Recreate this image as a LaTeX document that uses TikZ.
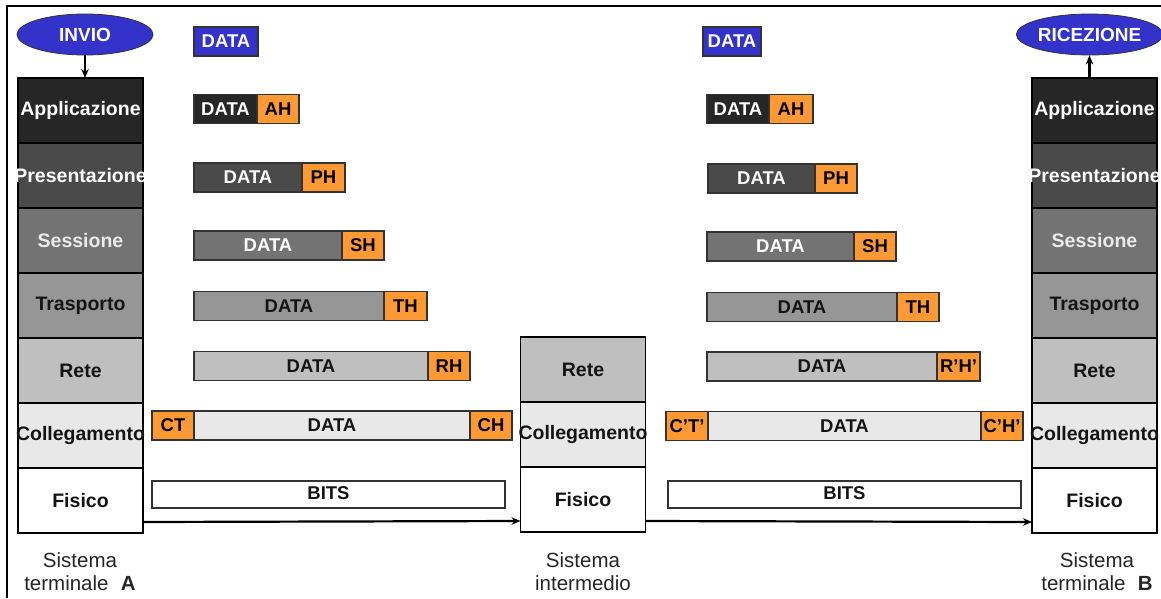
\documentclass[tikz,border=0pt]{standalone}
\usepackage{fontspec}
\setmainfont{Liberation Sans}
\usetikzlibrary{shapes.geometric,arrows.meta}

\definecolor{layA}{HTML}{262626}
\definecolor{layP}{HTML}{4A4A4A}
\definecolor{layS}{HTML}{737373}
\definecolor{layT}{HTML}{969696}
\definecolor{layR}{HTML}{BFBFBF}
\definecolor{layC}{HTML}{E8E8E8}
\definecolor{hdrorange}{HTML}{FF9933}
\definecolor{epblue}{HTML}{3333CC}
\definecolor{inktext}{HTML}{141414}

\begin{document}
\begin{tikzpicture}[x=1pt,y=-1pt,
  layer/.style={draw=black, line width=1.6pt, minimum width=125pt, minimum height=65pt,
    inner sep=0pt, outer sep=0pt},
  lyt/.style={font=\fontsize{19.5}{22}\selectfont\bfseries},
  lay1/.style={layer, fill=layA, label={[lyt,text=white]center:#1}},
  lay2/.style={layer, fill=layP, label={[lyt,text=white]center:#1}},
  lay3/.style={layer, fill=layS, label={[lyt,text=black!8]center:#1}},
  lay4/.style={layer, fill=layT, label={[lyt,text=inktext]center:#1}},
  lay5/.style={layer, fill=layR, label={[lyt,text=inktext]center:#1}},
  lay6/.style={layer, fill=layC, label={[lyt,text=inktext]center:#1}},
  lay7/.style={layer, fill=white, label={[lyt,text=inktext]center:#1}},
  pk/.style={draw=black!80, line width=1.1pt, minimum height=29pt, inner sep=0pt, outer sep=0pt,
    font=\fontsize{18.5}{20}\selectfont\bfseries},
  hdr/.style={pk, fill=hdrorange, text=black, minimum width=#1},
  hdr/.default=42pt,
  flow/.style={line width=2.2pt, -{Stealth[length=9pt,width=7.5pt]}},
  caption/.style={font=\fontsize{20.5}{23}\selectfont, text=black!85, align=center},
  endpt/.style={ellipse, draw=black!80, line width=0.8pt, fill=epblue, text=white,
    minimum width=136pt, minimum height=41pt, inner sep=0pt,
    font=\fontsize{19}{20}\selectfont\bfseries}
]
\useasboundingbox (0,0) rectangle (1161,598);

% outer frame (top and left edges)
\draw[line width=2.2pt] (7,598) -- (7,6) -- (1161,6);

% end system A
\node[lay1=Applicazione]  (aA) at (80.5,110.5) {};
\node[lay2=Presentazione] (aP) at (80.5,175.5) {};
\node[lay3=Sessione]      (aS) at (80.5,240.5) {};
\node[lay4=Trasporto]     (aT) at (80.5,305.5) {};
\node[lay5=Rete]          (aR) at (80.5,370.5) {};
\node[lay6=Collegamento]  (aC) at (80.5,435.5) {};
\node[lay7=Fisico]        (aF) at (80.5,500.5) {};

% intermediate system
\node[lay5=Rete]          (iR) at (583,369.5) {};
\node[lay6=Collegamento]  (iC) at (583,434.5) {};
\node[lay7=Fisico]        (iF) at (583,499.5) {};

% end system B
\node[lay1=Applicazione]  (bA) at (1094.5,110.5) {};
\node[lay2=Presentazione] (bP) at (1094.5,175.5) {};
\node[lay3=Sessione]      (bS) at (1094.5,240.5) {};
\node[lay4=Trasporto]     (bT) at (1094.5,305.5) {};
\node[lay5=Rete]          (bR) at (1094.5,370.5) {};
\node[lay6=Collegamento]  (bC) at (1094.5,435.5) {};
\node[lay7=Fisico]        (bF) at (1094.5,500.5) {};

% send / receive
\node[endpt] (invio) at (85,34.5) {INVIO};
\node[endpt] (ricez) at (1089.5,34.5) {RICEZIONE};
\draw[flow] (invio.south) -- (invio.south |- aA.north);
\draw[flow] (ricez.south |- bA.north) -- (ricez.south);

% physical transmission
\draw[flow] ([yshift=11pt]aF.south east) -- ([yshift=11pt]iF.south west);
\draw[flow] ([yshift=11pt]iF.south east) -- ([yshift=11pt]bF.south west);

% encapsulation, A -> intermediate
\node[pk, fill=epblue, text=white, minimum width=64pt]  (d0) at (226,41.5) {DATA};
\node[pk, fill=layA, text=white, minimum width=63pt]    (d1) at (225.5,109) {DATA};
\node[hdr, anchor=west] (h1) at (d1.east) {AH};
\node[pk, fill=layP, text=white, minimum width=108pt]   (d2) at (248,177.5) {DATA};
\node[hdr=43pt, anchor=west] (h2) at (d2.east) {PH};
\node[pk, fill=layS, text=white, minimum width=148pt]   (d3) at (268,245.5) {DATA};
\node[hdr, anchor=west] (h3) at (d3.east) {SH};
\node[pk, fill=layT, text=inktext, minimum width=190pt] (d4) at (289,306) {DATA};
\node[hdr=43pt, anchor=west] (h4) at (d4.east) {TH};
\node[pk, fill=layR, text=inktext, minimum width=234pt] (d5) at (311,366) {DATA};
\node[hdr, anchor=west] (h5) at (d5.east) {RH};
\node[pk, fill=layC, text=inktext, minimum width=276pt] (d6) at (332,425.5) {DATA};
\node[hdr, anchor=east] (t6) at (d6.west) {CT};
\node[hdr, anchor=west] (h6) at (d6.east) {CH};
\node[pk, fill=white, text=inktext, minimum width=353pt, minimum height=27pt] (d7) at (328.5,494.5) {\raisebox{2pt}{BITS}};

% encapsulation, intermediate -> B
\node[pk, fill=epblue, text=white, minimum width=58pt]  (e0) at (732,41.5) {DATA};
\node[pk, fill=layA, text=white, minimum width=62pt]    (e1) at (738,109) {DATA};
\node[hdr=44pt, anchor=west] (g1) at (e1.east) {AH};
\node[pk, fill=layP, text=white, minimum width=107pt]   (e2) at (761.5,178.5) {DATA};
\node[hdr, anchor=west] (g2) at (e2.east) {PH};
\node[pk, fill=layS, text=white, minimum width=147pt]   (e3) at (780.5,246.5) {DATA};
\node[hdr, anchor=west] (g3) at (e3.east) {SH};
\node[pk, fill=layT, text=inktext, minimum width=190pt] (e4) at (802,307) {DATA};
\node[hdr, anchor=west] (g4) at (e4.east) {TH};
\node[pk, fill=layR, text=inktext, minimum width=230pt] (e5) at (822,366.5) {DATA};
\node[hdr=43pt, anchor=west] (g5) at (e5.east) {R'H'};
\node[pk, fill=layC, text=inktext, minimum width=273pt] (e6) at (844.5,426) {DATA};
\node[hdr, anchor=east] (s6) at (e6.west) {C'T'};
\node[hdr, anchor=west] (g6) at (e6.east) {C'H'};
\node[pk, fill=white, text=inktext, minimum width=353pt, minimum height=27pt] (e7) at (844.5,494.5) {\raisebox{2pt}{BITS}};

% captions
\node[caption] (capA) at (80,571.5) {Sistema\\terminale\hspace{0.6em}\textbf{A}};
\node[caption] (capI) at (583,571.5) {Sistema\\intermedio};
\node[caption] (capB) at (1097,571.5) {Sistema\\terminale\hspace{0.6em}\textbf{B}};
\end{tikzpicture}
\end{document}
